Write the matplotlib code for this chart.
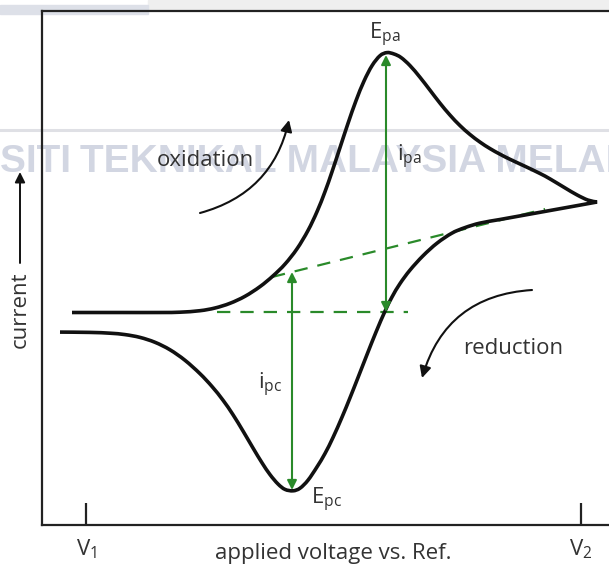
"""
Cyclic voltammogram sketch: one oxidation/reduction cycle with the
peak currents and peak potentials marked.
"""
import matplotlib
matplotlib.use("Agg")
import matplotlib.pyplot as plt
from matplotlib.patches import FancyArrowPatch, PathPatch, Rectangle
from matplotlib.lines import Line2D
from matplotlib.path import Path

plt.rcParams["font.family"] = ["Open Sans", "DejaVu Sans"]
plt.rcParams["mathtext.fontset"] = "custom"
plt.rcParams["mathtext.rm"] = "Open Sans"

# forward sweep V1 -> V2 (voltage, current), arbitrary units
fwd_v = [30, 78, 118, 138, 158, 173, 188, 203, 218, 231, 243, 255, 266, 275,
         283, 290, 298, 306, 314, 322, 330, 338, 345, 352, 359, 368, 378, 388,
         398, 408, 418, 428, 438, 448, 458, 468, 483, 498, 508, 523, 535, 546,
         555]
fwd_i = [212.5, 212.5, 212.5, 212.8, 214.3, 217, 221.7, 228.7, 238.4, 249.1,
         260.9, 276.2, 294.5, 313.3, 333.3, 353.2, 377.4, 401.6, 424.3, 443.9,
         459.3, 469.3, 472.4, 471, 467.5, 459.4, 447.7, 434.8, 421.8, 409.9,
         399.4, 390.5, 382.9, 376.4, 370.8, 365.7, 358.7, 351.5, 346.1, 337.1,
         330.1, 324.9, 323]

# reverse sweep V2 -> V1
rev_v = [555, 538, 518, 498, 478, 458, 438, 423, 410, 395, 381, 368, 358, 350,
         343, 334, 325, 316, 308, 300, 291, 283, 275, 266, 258, 251, 243, 236,
         228, 220, 211, 201, 191, 181, 170, 158, 143, 128, 113, 98, 83, 68, 48,
         18]
rev_i = [323, 319.9, 316.3, 312.7, 309.1, 305.5, 301.9, 297.4, 291.9, 281.8,
         269.2, 254.9, 241.4, 228, 213.8, 192.9, 170.4, 147.4, 127.2, 107.8,
         87.5, 71.5, 58.1, 44.8, 36.8, 34.2, 35.6, 41, 50.4, 62.2, 77, 94,
         110.3, 124.8, 138.5, 151.3, 164.7, 175.2, 182.7, 187.6, 190.4, 191.8,
         192.6, 192.9]

# baselines and peak markers
base_flat_v = [175, 366]
base_flat_i = [213, 213]
base_slope_v = [230, 503]
base_slope_i = [248, 316]
ipa_v, ipa_i = 344, (213, 470)
ipc_v, ipc_i = 250, (253, 35)

tick_v = [44, 539]
tick_labels = [r"$\mathrm{V}_1$", r"$\mathrm{V}_2$"]

GREEN = "#2a8a2a"
INK = "#111111"
FS = 16


def smooth_segments(xs, ys):
    """Bezier segments through every sample (Catmull-Rom tangents)."""
    pts = list(zip(xs, ys))
    verts, codes = [pts[0]], [Path.MOVETO]
    for k in range(len(pts) - 1):
        p0 = pts[k - 1] if k > 0 else pts[k]
        p1, p2 = pts[k], pts[k + 1]
        p3 = pts[k + 2] if k + 2 < len(pts) else p2
        c1 = (p1[0] + (p2[0] - p0[0]) / 6, p1[1] + (p2[1] - p0[1]) / 6)
        c2 = (p2[0] - (p3[0] - p1[0]) / 6, p2[1] - (p3[1] - p1[1]) / 6)
        verts += [c1, c2, p2]
        codes += [Path.CURVE4] * 3
    return verts, codes


fig = plt.figure(figsize=(6.09, 5.66), dpi=100)

# watermark behind the plot
wm = "#d2d6e2"
fig.patches.append(Rectangle((148 / 609, 1 - 10 / 566), 1, 10 / 566,
                             transform=fig.transFigure, color="#efefef",
                             zorder=-5))
fig.patches.append(Rectangle((0, 1 - 14 / 566), 148 / 609, 9 / 566,
                             transform=fig.transFigure, color="#dde0e8",
                             zorder=-5))
fig.lines.append(Line2D([0, 1], [1 - 130 / 566] * 2, transform=fig.transFigure,
                        color="#dfe0e5", lw=2.2, zorder=-5))
fig.text(72 / 609, 1 - 172 / 566, "UNIVERSITI", ha="right", va="baseline",
         fontsize=28, fontweight="bold", family="Liberation Sans",
         color=wm, zorder=-5)
fig.text(80 / 609, 1 - 172 / 566, "TEKNIKAL MALAYSIA MELAKA", ha="left",
         va="baseline", fontsize=28, fontweight="bold",
         family="Liberation Sans", color=wm, zorder=-5)

ax = fig.add_axes([42 / 609, 41 / 566, 567 / 609, 514 / 566])
ax.patch.set_alpha(0)
ax.set_xlim(0, 567)
ax.set_ylim(0, 514)
ax.spines["right"].set_visible(False)
for side in ("left", "bottom", "top"):
    ax.spines[side].set_linewidth(1.6)
    ax.spines[side].set_color("#222222")
ax.set_yticks([])
ax.set_xticks(tick_v)
ax.set_xticklabels(tick_labels)
ax.tick_params(axis="x", direction="in", length=16, width=1.6,
               color="#222222", pad=9, labelsize=FS, labelcolor="#333333")

# the voltammogram, sharp corner at the switching potential
fv, fc = smooth_segments(fwd_v, fwd_i)
rv, rc = smooth_segments(rev_v, rev_i)
cv_path = Path(fv + rv[1:], fc + rc[1:])
ax.add_patch(PathPatch(cv_path, fill=False, edgecolor=INK, lw=2.6,
                       joinstyle="miter", capstyle="butt", zorder=3))

ax.plot(base_flat_v, base_flat_i, color=GREEN, lw=1.6, dashes=(6, 4.5),
        zorder=2)
ax.plot(base_slope_v, base_slope_i, color=GREEN, lw=1.6, dashes=(6, 4.5),
        zorder=2)

for v, (i0, i1) in ((ipa_v, ipa_i), (ipc_v, ipc_i)):
    ax.add_patch(FancyArrowPatch((v, i0), (v, i1), arrowstyle="<|-|>",
                                 mutation_scale=14, color=GREEN, lw=1.5,
                                 shrinkA=0, shrinkB=0, zorder=4))

# sweep direction arrows
ax.add_patch(FancyArrowPatch((158, 312), (247, 405), arrowstyle="-|>",
                             connectionstyle="arc3,rad=0.3",
                             mutation_scale=17, color=INK, lw=1.5,
                             shrinkA=0, shrinkB=0))
ax.add_patch(FancyArrowPatch((490, 235), (380, 147), arrowstyle="-|>",
                             connectionstyle="arc3,rad=0.35",
                             mutation_scale=17, color=INK, lw=1.5,
                             shrinkA=0, shrinkB=0))

txt = dict(color="#333333", fontsize=FS)
ax.text(163, 365, "oxidation", ha="center", va="center", **txt)
ax.text(471, 176, "reduction", ha="center", va="center", **txt)
ax.text(343, 490, r"$\mathrm{E}_\mathrm{pa}$", ha="center", va="center", **txt)
ax.text(285, 25, r"$\mathrm{E}_\mathrm{pc}$", ha="center", va="center", **txt)
ax.text(355, 368, r"$\mathrm{i}_\mathrm{pa}$", ha="left", va="center", **txt)
ax.text(228, 140, r"$\mathrm{i}_\mathrm{pc}$", ha="center", va="center", **txt)

ax.text(291, -28, "applied voltage vs. Ref.", ha="center", va="center",
        clip_on=False, **txt)
ax.text(-22, 215, "current", ha="center", va="center", rotation=90,
        clip_on=False, **txt)
ax.add_patch(FancyArrowPatch((-22, 262), (-22, 353), arrowstyle="-|>",
                             mutation_scale=15, color=INK, lw=1.4,
                             shrinkA=0, shrinkB=0, clip_on=False))

fig.savefig("out.png", dpi=100)
